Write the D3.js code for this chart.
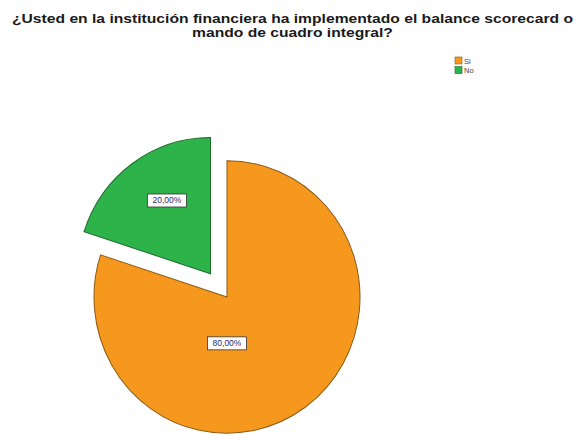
<!DOCTYPE html>
<html>
<head>
<meta charset="utf-8">
<script src="https://cdn.jsdelivr.net/npm/d3@7"></script>
<style>
  html, body { margin: 0; padding: 0; background: #fff; }
  svg { display: block; }
</style>
</head>
<body>
<svg id="chart" width="579" height="435"></svg>
<script>
// Survey answers and their shares (%)
const categories = ["Si", "No"];
const percentages = [80, 20];
const labelTexts = ["80,00%", "20,00%"];
const colors = ["#f7981e", "#2db34a"];
const strokeColors = ["#8a5a14", "#1d6b2e"];
const titleLines = [
  "¿Usted en la institución financiera ha implementado el balance scorecard o",
  "mando de cuadro integral?"
];

const W = 579, H = 435;
const svg = d3.select("#chart");

// Title: two centred lines, first line spread to the full title width
const title = svg.append("g").attr("font-family", "Liberation Sans, Arial, sans-serif")
  .attr("font-weight", "bold").attr("fill", "#1a1a1a");
const titleNodes = titleLines.map((t, i) =>
  title.append("text").attr("x", 292.5).attr("y", 23 + i * 13.5).attr("text-anchor", "middle")
    .attr("font-size", 13).text(t));
const titleWidth = 561;
const k = titleWidth / titleNodes[0].node().getComputedTextLength();
titleNodes.forEach(n => {
  const w = n.node().getComputedTextLength();
  n.attr("textLength", w * k).attr("lengthAdjust", "spacingAndGlyphs");
});

// Legend
const legend = svg.append("g").attr("transform", "translate(455,57)")
  .attr("font-family", "Liberation Sans, Arial, sans-serif");
categories.forEach((c, i) => {
  const g = legend.append("g").attr("transform", `translate(0,${i * 9.5})`);
  g.append("rect").attr("width", 7).attr("height", 7)
    .attr("fill", colors[i]).attr("stroke", strokeColors[i]).attr("stroke-width", 0.6);
  g.append("text").attr("x", 9).attr("y", 6.5).attr("font-size", 7.5)
    .attr("fill", "#444").text(c);
});

// Pie
const cx = 227, cy = 297, r = 133, yStretch = 1.025, explode = 28;
const pie = d3.pie().sort(null).value(d => d)(percentages);
const arc = d3.arc().innerRadius(0).outerRadius(r);

const pieG = svg.append("g").attr("transform", `translate(${cx},${cy}) scale(1,${yStretch})`);

pie.forEach((p, i) => {
  const mid = (p.startAngle + p.endAngle) / 2;
  const off = i === 1 ? explode : 0;
  const dx = Math.sin(mid) * off, dy = -Math.cos(mid) * off;
  const g = pieG.append("g").attr("transform", `translate(${dx},${dy})`);
  g.append("path").attr("d", arc(p))
    .attr("fill", colors[i]).attr("stroke", strokeColors[i]).attr("stroke-width", 1);

  // value label inside the slice
  let lx, ly;
  if (i === 1) {
    const a = mid + 0.08, d = r * 0.63;
    lx = Math.sin(a) * d; ly = -Math.cos(a) * d;
  } else {
    lx = 0; ly = r * 0.34;
  }
  const lbl = g.append("g").attr("transform", `translate(${lx},${ly}) scale(1,${1 / yStretch})`);
  lbl.append("rect").attr("x", -19.5).attr("y", -6.5).attr("width", 39).attr("height", 13)
    .attr("fill", "#fff").attr("stroke", "#333").attr("stroke-width", 0.8);
  lbl.append("text").attr("x", 0).attr("y", 3).attr("text-anchor", "middle")
    .attr("font-family", "Liberation Sans, Arial, sans-serif").attr("font-size", 8.5)
    .attr("fill", "#2a2a6a").text(labelTexts[i]);
});
</script>
</body>
</html>
